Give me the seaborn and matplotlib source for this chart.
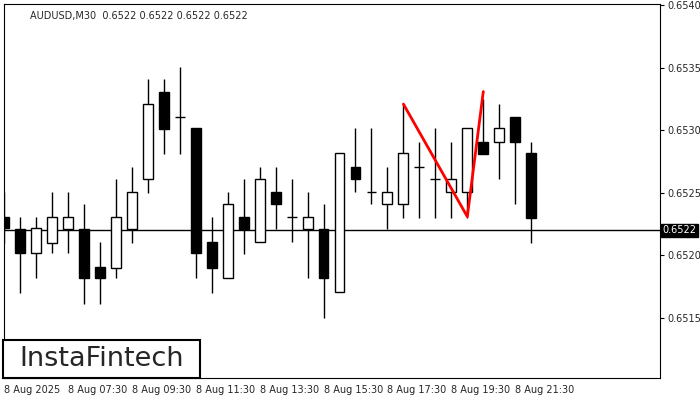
import numpy as np
import pandas as pd
import matplotlib.pyplot as plt
import seaborn as sns
from matplotlib.patches import Rectangle

# AUDUSD M30 candles
opens  = [0.65231, 0.65221, 0.65202, 0.65210, 0.65221, 0.65221, 0.65191, 0.65190, 0.65221, 0.65261,
          0.65331, 0.65311, 0.65302, 0.65211, 0.65182, 0.65231, 0.65211, 0.65251, 0.65231, 0.65221,
          0.65221, 0.65171, 0.65271, 0.65251, 0.65241, 0.65241, 0.65271, 0.65261, 0.65251, 0.65251,
          0.65291, 0.65291, 0.65311, 0.65282]
closes = [0.65222, 0.65202, 0.65222, 0.65231, 0.65231, 0.65182, 0.65182, 0.65231, 0.65251, 0.65321,
          0.65301, 0.65311, 0.65202, 0.65190, 0.65241, 0.65221, 0.65261, 0.65241, 0.65231, 0.65231,
          0.65182, 0.65282, 0.65261, 0.65251, 0.65251, 0.65282, 0.65271, 0.65261, 0.65261, 0.65302,
          0.65281, 0.65302, 0.65291, 0.65230]
highs  = [0.65251, 0.65231, 0.65231, 0.65251, 0.65251, 0.65241, 0.65211, 0.65261, 0.65271, 0.65341,
          0.65341, 0.65351, 0.65302, 0.65231, 0.65251, 0.65261, 0.65271, 0.65271, 0.65261, 0.65251,
          0.65241, 0.65282, 0.65302, 0.65302, 0.65271, 0.65321, 0.65291, 0.65302, 0.65291, 0.65302,
          0.65325, 0.65321, 0.65311, 0.65291]
lows   = [0.65210, 0.65170, 0.65182, 0.65202, 0.65202, 0.65161, 0.65161, 0.65182, 0.65210, 0.65250,
          0.65281, 0.65281, 0.65182, 0.65170, 0.65182, 0.65201, 0.65211, 0.65221, 0.65211, 0.65182,
          0.65150, 0.65171, 0.65251, 0.65241, 0.65221, 0.65230, 0.65230, 0.65230, 0.65230, 0.65230,
          0.65281, 0.65261, 0.65241, 0.65210]

# double top pattern line
pattern_idx = [25, 29, 30]
pattern_val = [0.65321, 0.65231, 0.65331]

last_price = 0.6522
time_labels = ["8 Aug 2025", "8 Aug 07:30", "8 Aug 09:30", "8 Aug 11:30", "8 Aug 13:30",
               "8 Aug 15:30", "8 Aug 17:30", "8 Aug 19:30", "8 Aug 21:30"]
price_ticks = [0.6515, 0.6520, 0.6525, 0.6530, 0.6535, 0.6540]

df = pd.DataFrame({"o": opens, "h": highs, "l": lows, "c": closes})
df["i"] = np.arange(len(df))

sns.set_style("white")
plt.rcParams["font.family"] = ["DejaVu Sans"]

fig = plt.figure(figsize=(7, 4), dpi=100)
ax = fig.add_axes([4 / 700, 22 / 400, 656 / 700, 374 / 400])

w = 0.62
ax.vlines(df["i"], df["l"], df["h"], color="black", lw=1, zorder=2)
for _, r in df.iterrows():
    lo, hi = min(r.o, r.c), max(r.o, r.c)
    if hi - lo < 0.00003:
        ax.hlines(r.o, r.i - w / 2, r.i + w / 2, color="black", lw=1, zorder=3)
    else:
        face = "white" if r.c > r.o else "black"
        ax.bar(r.i, hi - lo, bottom=lo, width=w, color=face, edgecolor="black", lw=1, zorder=3)

ax.axhline(last_price, color="black", lw=1, zorder=1)
sns.lineplot(x=pattern_idx, y=pattern_val, color="red", lw=2, ax=ax, zorder=4)

ax.set_xlim(0.06, 41.06)
ax.set_ylim(0.65102, 0.65401)

ax.yaxis.tick_right()
ax.set_yticks(price_ticks)
ax.set_yticklabels([f"{p:.4f}" for p in price_ticks], fontsize=7)
ax.set_xticks(np.arange(0, 33, 4))
ax.set_xticklabels(time_labels, fontsize=7, ha="left")
ax.tick_params(axis="both", length=3, width=0.8, color="black", pad=2, direction="out")
for s in ax.spines.values():
    s.set_color("black")
    s.set_linewidth(0.8)

fig.text(30 / 700, 1 - 16 / 400, "AUDUSD,M30  0.6522 0.6522 0.6522 0.6522",
         fontsize=7, va="center", ha="left")

ax.annotate(f"{last_price:.4f}", xy=(1, last_price), xycoords=("axes fraction", "data"),
            xytext=(2, 0), textcoords="offset points", fontsize=7, color="white",
            va="center", ha="left",
            bbox=dict(boxstyle="square,pad=0.15", fc="black", ec="black"))

# logo box
fig.patches.append(Rectangle((3 / 700, 1 - 378 / 400), 197 / 700, 38 / 400,
                             transform=fig.transFigure, fc="white", ec="black", lw=1.5, zorder=5))
fig.text(102 / 700, 1 - 359 / 400, "InstaFintech", fontsize=19.5, fontweight="medium",
         ha="center", va="center", zorder=6)

fig.savefig("out.png", dpi=100)
